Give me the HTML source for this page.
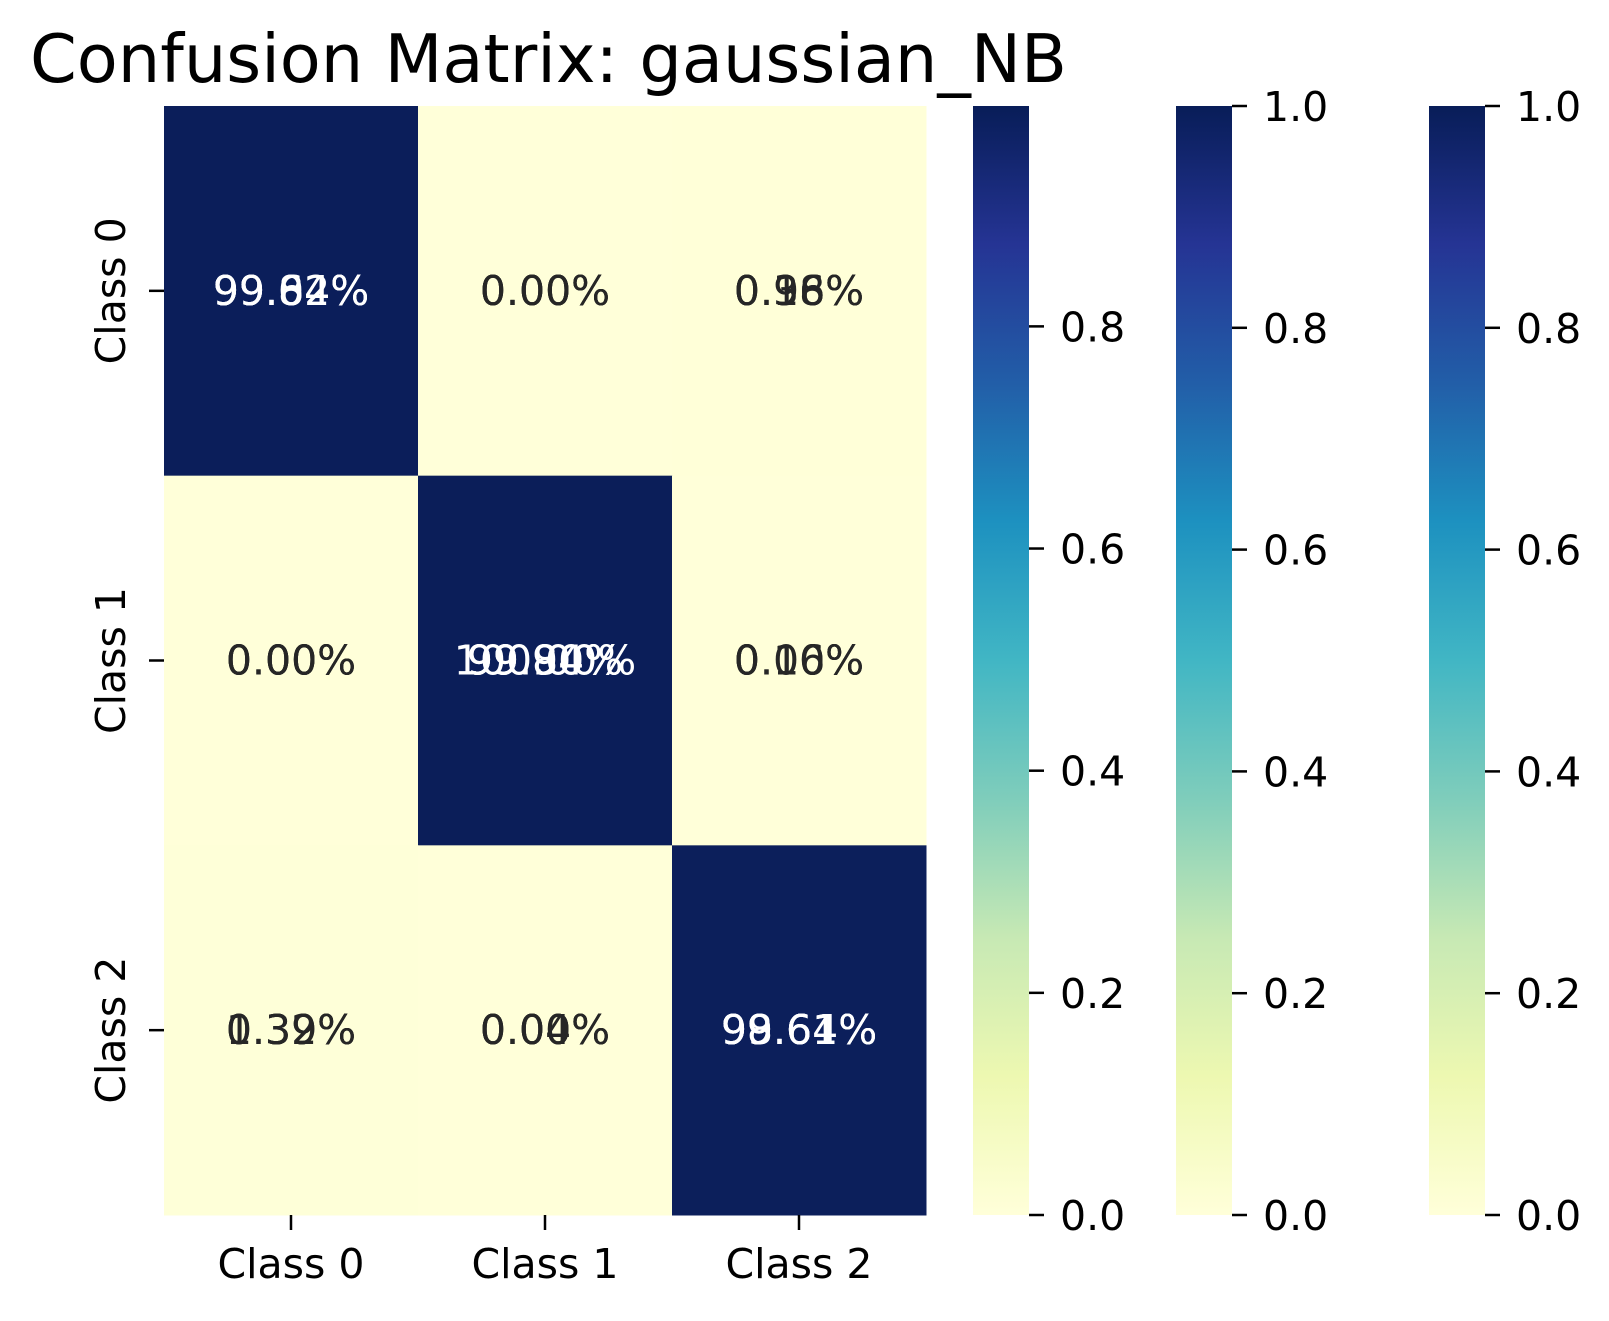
<!DOCTYPE html>
<html><head><meta charset="utf-8"><style>
html,body{margin:0;padding:0;background:#fff;}
svg text{font-family:"DejaVu Sans","Liberation Sans",sans-serif;}
</style></head><body>
<svg id="chart" width="1609" height="1316" xmlns="http://www.w3.org/2000/svg">
<defs>
<linearGradient id="ylgnbu" x1="0" y1="1" x2="0" y2="0">
<stop offset="0" stop-color="#ffffd9"/><stop offset="0.125" stop-color="#edf8b1"/><stop offset="0.25" stop-color="#c7e9b4"/><stop offset="0.375" stop-color="#7fcdbb"/><stop offset="0.5" stop-color="#41b6c4"/><stop offset="0.625" stop-color="#1d91c0"/><stop offset="0.75" stop-color="#225ea8"/><stop offset="0.875" stop-color="#253494"/><stop offset="1" stop-color="#081d58"/>
</linearGradient>
</defs>
<text x="30" y="82" font-size="67" fill="#000">Confusion Matrix: gaussian_NB</text>
<g id="cells"></g><g id="annots"></g><g id="axes"></g><g id="cbars"></g>
</svg>
<script>
const categories = ["Class 0","Class 1","Class 2"];
const matrixA = [[99.04,0.00,0.96],[0.00,99.84,0.16],[0.39,0.00,99.61]];
const matrixB = [[99.62,0.00,0.38],[0.00,100.00,0.00],[1.32,0.04,98.64]];
const matrixC = [[99.84,0.00,0.16],[0.00,99.90,0.10],[0.39,0.00,99.61]];
const cbarTicks = ["0.0","0.2","0.4","0.6","0.8","1.0"];
const cbarMax = [0.9984, 1.0, 1.0];

const NS="http://www.w3.org/2000/svg";
const L=164,T=106,W=762,H=1109;
const cw=W/3, ch=H/3;
function xPos(i){return L+cw*i;}
function yPos(j){return T+ch*j;}
const stops=[[0,"#ffffd9"],[0.125,"#edf8b1"],[0.25,"#c7e9b4"],[0.375,"#7fcdbb"],[0.5,"#41b6c4"],[0.625,"#1d91c0"],[0.75,"#225ea8"],[0.875,"#253494"],[1,"#0b1e59"]];
function hex(h){return [1,3,5].map(k=>parseInt(h.substr(k,2),16));}
function cmap(t){t=Math.max(0,Math.min(1,t));for(let k=1;k<stops.length;k++){if(t<=stops[k][0]){const a=stops[k-1],b=stops[k];const f=(t-a[0])/(b[0]-a[0]);const ca=hex(a[1]),cb=hex(b[1]);return "rgb("+ca.map((c,i)=>Math.round(c+(cb[i]-c)*f)).join(",")+")";}}return stops[stops.length-1][1];}
function mk(tag,attrs,parent){const e=document.createElementNS(NS,tag);for(const k in attrs)e.setAttribute(k,attrs[k]);parent.appendChild(e);return e;}
const cells=document.getElementById('cells'),ann=document.getElementById('annots'),axes=document.getElementById('axes'),cb=document.getElementById('cbars');
const mats=[matrixA,matrixB,matrixC];
for(let r=0;r<3;r++)for(let c=0;c<3;c++){
  const v=matrixC[r][c]/100;
  const rect=mk('rect',{x:xPos(c),y:yPos(r),width:cw+0.5,height:ch+0.5,fill:cmap(v/cbarMax[2])},cells);
  
  
  mats.forEach((m,mi)=>{
    const val=m[r][c];
    const t=mk('text',{x:xPos(c)+cw/2,y:yPos(r)+ch/2+14,'font-size':41,'text-anchor':'middle',fill:val>50?'#ffffff':'#262626'},ann);
    t.textContent=val.toFixed(2)+"%";
    
    
  });
}
categories.forEach((lab,i)=>{
  const cx=xPos(i)+cw/2;
  const tk=mk('line',{x1:cx,x2:cx,y1:T+H,y2:T+H+15,stroke:'#000','stroke-width':2.5},axes);
  
  
  const t=mk('text',{x:cx,y:1278,'font-size':41,'text-anchor':'middle',fill:'#000'},axes);
  t.textContent=lab;
  
  
  const cy=yPos(i)+ch/2;
  const ty=mk('line',{x1:L-15,x2:L,y1:cy,y2:cy,stroke:'#000','stroke-width':2.5},axes);
  
  
  const t2=mk('text',{x:0,y:0,'font-size':41,'text-anchor':'middle',fill:'#000',transform:'translate(125,'+cy+') rotate(-90)'},axes);
  t2.textContent=lab;
  
  
});
const cbX=[973,1176,1429], cbW=56;
cbX.forEach((x,ci)=>{
  const r=mk('rect',{x:x,y:T,width:cbW,height:H,fill:'url(#ylgnbu)'},cb);
  
  
  cbarTicks.forEach(s=>{
    const v=parseFloat(s);
    if(v>cbarMax[ci]+1e-9)return;
    const y=T+H-(v/cbarMax[ci])*H;
    const l=mk('line',{x1:x+cbW,x2:x+cbW+15,y1:y,y2:y,stroke:'#000','stroke-width':2.5},cb);
    
    
    const t=mk('text',{x:x+cbW+31,y:y+15,'font-size':41,fill:'#000'},cb);
    t.textContent=s;
    
    
  });
});
</script>
</body></html>
